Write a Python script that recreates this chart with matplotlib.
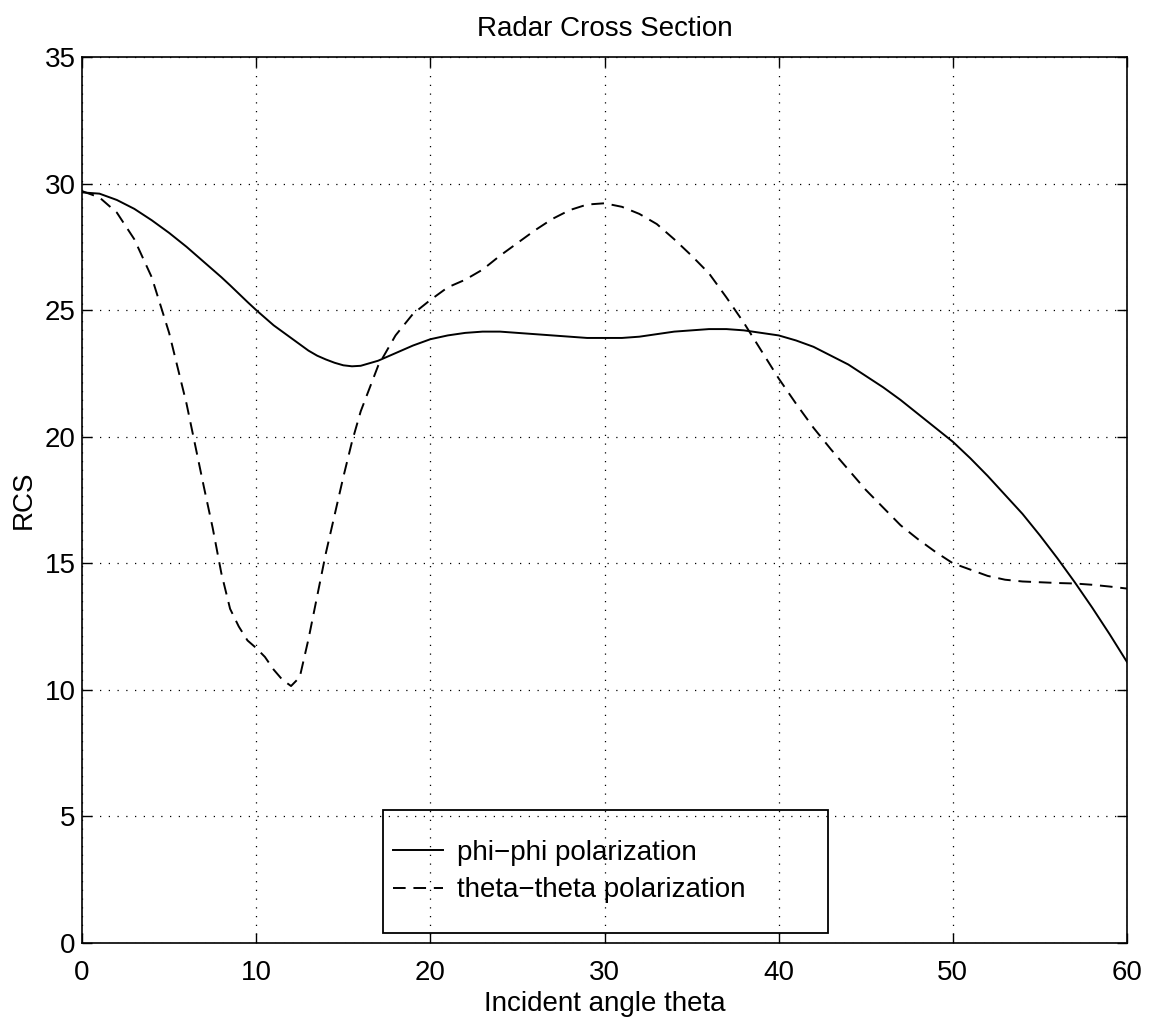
import matplotlib
matplotlib.use('Agg')
import matplotlib.pyplot as plt
from matplotlib.patches import Rectangle

# incident angle (deg), finer steps around the deep notch of the dashed curve
theta = [0, 1, 2, 3, 4, 5, 6, 7, 7.5, 8, 8.5, 9, 9.5, 10, 10.5, 11, 11.5, 12, 12.5,
         13, 13.5, 14, 14.5, 15, 15.5, 16, 17, 18, 19, 20, 21, 22, 23, 24, 25, 26,
         27, 28, 29, 30, 31, 32, 33, 34, 35, 36, 37, 38, 39, 40, 41, 42, 43, 44, 45,
         46, 47, 48, 49, 50, 51, 52, 53, 54, 55, 56, 57, 58, 59, 60]

rcs_phi = [29.65, 29.6, 29.35, 29.0, 28.55, 28.05, 27.5, 26.9, 26.6, 26.3, 25.98,
           25.65, 25.32, 25.0, 24.7, 24.4, 24.15, 23.9, 23.65, 23.4, 23.2, 23.05,
           22.92, 22.82, 22.78, 22.8, 23.0, 23.3, 23.6, 23.85, 24.0, 24.1, 24.15,
           24.15, 24.1, 24.05, 24.0, 23.95, 23.9, 23.9, 23.9, 23.95, 24.05, 24.15,
           24.2, 24.25, 24.25, 24.2, 24.1, 24.0, 23.8, 23.55, 23.2, 22.85, 22.4,
           21.95, 21.45, 20.9, 20.35, 19.8, 19.15, 18.45, 17.7, 16.95, 16.1, 15.2,
           14.25, 13.25, 12.2, 11.1]

rcs_theta = [29.7, 29.45, 28.85, 27.8, 26.3, 24.1, 21.3, 18.0, 16.4, 14.6, 13.2,
             12.5, 11.95, 11.65, 11.3, 10.8, 10.4, 10.15, 10.5, 12.0, 13.7, 15.4,
             16.9, 18.4, 19.8, 21.0, 22.8, 24.0, 24.85, 25.4, 25.9, 26.2, 26.6,
             27.15, 27.65, 28.15, 28.6, 28.95, 29.17, 29.22, 29.08, 28.8, 28.4,
             27.8, 27.15, 26.45, 25.5, 24.5, 23.4, 22.3, 21.3, 20.35, 19.5, 18.7,
             17.9, 17.2, 16.5, 15.95, 15.45, 15.0, 14.75, 14.5, 14.35, 14.28,
             14.25, 14.22, 14.2, 14.15, 14.08, 14.0]

plt.rcParams['font.family'] = ['Liberation Sans', 'DejaVu Sans']
plt.rcParams['font.size'] = 20

fig = plt.figure(figsize=(11.54, 10.28), dpi=100)
ax = fig.add_axes([0.0711, 0.0827, 0.9055, 0.8619])

ax.plot(theta, rcs_phi, color='k', lw=1.4, label='phi\u2212phi polarization')
ax.plot(theta, rcs_theta, color='k', lw=1.4, dashes=(6.5, 4.0),
        label='theta\u2212theta polarization')

ax.set_xlim(0, 60)
ax.set_ylim(0, 35)
ax.set_xticks(range(0, 61, 10))
ax.set_yticks(range(0, 36, 5))
ax.grid(True, color='k', linestyle=(0, (1, 6)), lw=0.9)
ax.tick_params(direction='in', length=7, width=1, top=True, right=True,
               labelsize=20)
ax.tick_params(axis='x', pad=12)
ax.tick_params(axis='y', pad=4.5)
for s in ax.spines.values():
    s.set_linewidth(1.2)

ax.set_title('Radar Cross Section', fontsize=20, pad=15)
ax.set_xlabel('Incident angle theta', fontsize=20, labelpad=4)
ax.set_ylabel('RCS', fontsize=20, labelpad=6)

# matlab style legend: open box, grid shows through
ax.add_patch(Rectangle((0.288, 0.0113), 0.426, 0.1388, transform=ax.transAxes,
                       fill=False, edgecolor='k', lw=1.3, zorder=5))
ax.legend(loc='center left', bbox_to_anchor=(0.2976, 0.0807), frameon=False,
          borderpad=0, borderaxespad=0, handlelength=1.8, handletextpad=0.5,
          labelspacing=0.42, fontsize=20)

fig.savefig('out.png', dpi=100)
